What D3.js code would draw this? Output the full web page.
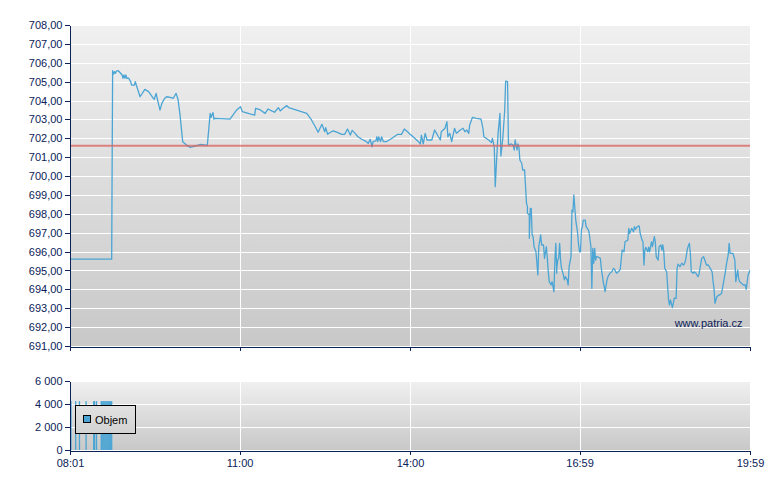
<!DOCTYPE html>
<html><head><meta charset="utf-8">
<script src="https://cdn.jsdelivr.net/npm/d3@7"></script>
<style>
body{margin:0;background:#fff}
svg{display:block}
text{font-family:"Liberation Sans",Arial,sans-serif;font-size:11px}
</style>
</head><body>
<svg id="c" width="780" height="490"></svg>
<script>
// ---- data ----
const sessionStart = "08:01";
const timeLabels = ["08:01", "11:00", "14:00", "16:59", "19:59"];
const priceTicks = [691,692,693,694,695,696,697,698,699,700,701,702,703,704,705,706,707,708];
const volumeTicks = [0, 2000, 4000, 6000];
const refPrice = 701.6;
const legendLabel = "Objem";
const watermark = "www.patria.cz";

// minutes after 08:01
const minutes = [0,44,45,46,47,48,49,51,53,55,56,57,58,59,60,62,64,65,68,69,70,74,79,83,88,89,91,92,95,97,100,102,106,109,112,114,116,119,123,127,132,138,145,148,149,151,152,153,169,172,176,180,182,190,195,196,201,206,209,213,216,220,222,225,229,231,250,255,259,262,266,269,270,272,275,278,283,287,290,293,296,298,301,304,308,313,315,317,319,320,323,324,325,326,328,329,331,334,340,346,350,353,357,359,361,364,368,370,371,373,375,377,382,385,387,389,391,392,394,396,398,399,401,403,406,408,410,412,415,417,419,421,422,425,429,434,436,437,442,445,446,448,449,451,452,454,455,457,459,460,462,463,466,468,469,470,472,473,474,475,477,478,480,482,483,483,485,485,486,487,488,489,490,492,494,495,497,498,500,501,503,504,505,506,508,509,510,511,512,513,514,514,515,516,517,518,519,521,522,523,525,526,527,529,530,531,532,534,535,536,537,538,539,540,541,542,544,545,547,548,550,551,552,553,554,555,556,557,560,561,563,565,567,568,570,572,574,575,577,579,581,583,585,586,589,590,591,593,595,596,597,599,601,602,604,605,606,607,608,610,611,612,614,615,617,618,619,621,622,624,625,626,627,628,630,632,633,634,635,636,637,638,640,641,642,644,646,648,649,650,652,654,655,656,658,659,661,663,664,667,669,670,672,674,676,678,679,680,681,683,685,686,688,692,693,695,696,697,699,700,702,703,705,706,707,709,711,713,714,716,718];
const prices = [695.60,695.60,705.58,705.40,705.53,705.44,705.56,705.58,705.47,705.35,705.18,705.35,705.18,705.35,705.18,705.18,705.00,704.82,704.82,705.00,704.82,704.20,704.59,704.47,704.12,704.07,704.38,704.12,703.50,703.85,704.12,704.20,704.17,704.12,704.38,704.07,703.32,701.82,701.64,701.52,701.59,701.68,701.63,703.32,703.11,703.36,703.01,703.06,703.01,703.23,703.50,703.67,703.41,703.29,703.23,703.59,703.50,703.32,703.55,703.45,703.38,703.62,703.45,703.59,703.73,703.62,703.32,702.97,702.61,702.32,702.74,702.35,702.56,702.21,702.32,702.39,702.30,702.21,702.21,702.49,702.17,702.42,702.26,702.08,701.95,701.82,701.73,701.95,701.55,701.82,701.86,702.08,701.82,702.08,701.82,702.08,701.82,701.82,702.00,702.21,702.21,702.49,702.32,702.21,702.14,702.00,701.82,701.70,702.17,701.70,702.26,701.91,701.91,702.44,702.26,702.08,701.91,702.35,702.44,702.53,702.88,702.08,702.26,701.82,702.53,702.26,702.35,702.44,702.53,702.35,702.44,702.26,702.70,703.11,703.06,703.01,702.53,702.08,701.91,701.77,702.00,701.55,699.44,701.38,702.26,703.32,701.06,702.00,703.50,705.03,705.00,701.64,701.70,701.64,701.38,701.91,701.38,701.70,701.55,700.85,700.68,700.32,700.32,698.56,698.38,698.03,697.94,696.70,698.29,698.29,696.88,696.79,696.26,695.99,694.76,696.26,696.88,696.35,696.35,695.64,696.26,695.64,694.93,694.41,694.23,694.41,694.14,693.88,695.55,696.44,694.85,695.11,695.55,695.64,696.44,695.55,695.11,694.76,694.50,694.67,694.50,694.23,695.20,695.73,698.20,698.11,699.00,697.67,697.32,696.97,696.35,695.99,695.99,697.18,697.32,697.67,697.67,697.32,697.18,697.05,696.26,694.05,696.17,695.38,696.17,695.55,695.73,695.73,695.64,695.11,694.41,693.88,694.50,694.67,694.85,694.93,695.11,695.06,694.85,694.93,695.06,696.08,695.99,696.52,696.61,697.23,696.97,697.23,697.05,697.32,697.18,697.32,697.36,696.97,696.61,696.52,695.29,696.08,696.23,695.99,696.23,695.99,696.52,696.26,696.79,696.52,695.73,695.55,696.26,696.35,696.08,696.35,695.99,695.11,694.93,693.44,693.17,693.44,693.26,693.03,693.26,693.53,693.53,695.11,695.34,695.20,695.38,695.29,695.38,695.55,696.17,696.44,695.91,694.93,694.85,694.93,694.85,694.67,694.76,695.64,695.73,695.59,695.29,695.29,695.11,694.93,694.41,694.05,693.26,693.61,693.70,693.70,693.79,694.93,695.29,695.82,696.44,695.91,695.91,695.91,695.55,694.41,695.02,694.58,694.41,694.32,694.23,694.23,694.00,694.76,695.02];

const volMinutes = [1,6,10,17,25,26,28,33,34,35,36,37,38,39,40,41,42,43,44];
const volumes    = [4250,4250,4250,4250,4250,4250,4250,4250,4250,4250,4250,4250,4250,4250,4250,4250,4250,4250,4250];

// ---- drawing ----
const navy = "#0b2258";
const lineBlue = "#4ba5d4";
const svg = d3.select("#c");
const toMin = s => { const [h, m] = s.split(":").map(Number); return h * 60 + m; };
const t0 = toMin(sessionStart);
const tickMinutes = timeLabels.map(l => toMin(l) - t0);

const X0 = 70, X1 = 750;
const main = {top: 25, bottom: 346};
const vol = {top: 381, bottom: 450};

const x = d3.scaleLinear().domain([tickMinutes[0], tickMinutes[tickMinutes.length - 1]]).range([X0, X1]);
const y = d3.scaleLinear().domain([d3.min(priceTicks), d3.max(priceTicks)]).range([main.bottom, main.top]);
const yv = d3.scaleLinear().domain([d3.min(volumeTicks), d3.max(volumeTicks)]).range([vol.bottom, vol.top]);

const defs = svg.append("defs");
function grad(id, y1, y2) {
  const g = defs.append("linearGradient").attr("id", id)
    .attr("gradientUnits", "userSpaceOnUse").attr("x1", 0).attr("x2", 0).attr("y1", y1).attr("y2", y2);
  g.append("stop").attr("offset", 0).attr("stop-color", "#f0f0f0");
  g.append("stop").attr("offset", 1).attr("stop-color", "#c8c8c8");
}
grad("gMain", main.top, main.bottom);
grad("gVol", vol.top, vol.bottom);
defs.append("clipPath").attr("id", "clipMain").append("rect")
  .attr("x", X0).attr("y", main.top).attr("width", X1 - X0).attr("height", main.bottom - main.top);

function panel(p, fill, yScale, ticks) {
  svg.append("rect").attr("x", X0).attr("y", p.top).attr("width", X1 - X0).attr("height", p.bottom - p.top)
    .attr("fill", `url(#${fill})`);
  const g = svg.append("g").attr("shape-rendering", "crispEdges");
  g.selectAll("line.h").data(ticks.filter(t => yScale(t) < p.bottom - 1)).join("line")
    .attr("x1", X0).attr("x2", X1).attr("y1", d => Math.round(yScale(d)) + 0.5).attr("y2", d => Math.round(yScale(d)) + 0.5)
    .attr("stroke", "#fff").attr("stroke-width", 1);
  g.selectAll("line.v").data(tickMinutes.slice(1, -1)).join("line")
    .attr("x1", d => Math.round(x(d)) + 0.5).attr("x2", d => Math.round(x(d)) + 0.5)
    .attr("y1", p.top).attr("y2", p.bottom).attr("stroke", "#fff").attr("stroke-width", 1);
}
panel(main, "gMain", y, priceTicks);
panel(vol, "gVol", yv, volumeTicks);

// price line
const line = d3.line().x((d, i) => x(minutes[i])).y(d => y(d));
svg.append("path").datum(prices).attr("clip-path", "url(#clipMain)")
  .attr("d", line).attr("fill", "none").attr("stroke", lineBlue).attr("stroke-width", 1.3)
  .attr("stroke-linejoin", "round");

// reference line
svg.append("line").attr("x1", X0).attr("x2", X1).attr("y1", y(refPrice)).attr("y2", y(refPrice))
  .attr("stroke", "#d9605c").attr("stroke-opacity", 0.75).attr("stroke-width", 2);

// watermark
svg.append("text").attr("x", 742.5).attr("y", 327).attr("text-anchor", "end")
  .attr("fill", navy).text(watermark);

// volume bars
const bw = 1.3;
svg.append("g").selectAll("rect").data(volumes).join("rect")
  .attr("x", (d, i) => x(volMinutes[i]) - bw / 2).attr("width", bw)
  .attr("y", d => yv(d)).attr("height", d => vol.bottom - yv(d))
  .attr("fill", lineBlue);

// legend
const lg = svg.append("g").attr("shape-rendering", "crispEdges");
lg.append("rect").attr("x", 75.5).attr("y", 405.5).attr("width", 60).attr("height", 28)
  .attr("fill", "url(#gVol)").attr("stroke", "#000");
lg.append("rect").attr("x", 83.5).attr("y", 415.5).attr("width", 7).attr("height", 7)
  .attr("fill", lineBlue).attr("stroke", "#000");
svg.append("text").attr("x", 95).attr("y", 424).attr("fill", "#000").text(legendLabel);

// axes
const fmtPrice = v => d3.format(".2f")(v).replace(".", ",");
const fmtVol = v => d3.format(",")(v).replace(/,/g, " ");
function styleAxis(g) {
  g.selectAll("path.domain").attr("stroke", navy).attr("stroke-width", 1);
  g.selectAll(".tick line").attr("stroke", navy);
  g.selectAll("text").attr("fill", navy).attr("font-size", 11).attr("font-family", '"Liberation Sans",Arial,sans-serif');
  g.attr("shape-rendering", "crispEdges");
}
svg.append("g").attr("transform", `translate(${X0 - 0.5},0)`)
  .call(d3.axisLeft(y).tickValues(priceTicks).tickFormat(fmtPrice).tickSize(5).tickSizeOuter(0).tickPadding(2))
  .call(styleAxis);
svg.append("g").attr("transform", `translate(0,${main.bottom + 0.5})`)
  .call(d3.axisBottom(x).tickValues(tickMinutes).tickFormat("").tickSize(4).tickSizeOuter(0))
  .call(styleAxis);
svg.append("g").attr("transform", `translate(${X0 - 0.5},0)`)
  .call(d3.axisLeft(yv).tickValues(volumeTicks).tickFormat(fmtVol).tickSize(5).tickSizeOuter(0).tickPadding(2))
  .call(styleAxis);
svg.append("g").attr("transform", `translate(0,${vol.bottom + 0.5})`)
  .call(d3.axisBottom(x).tickValues(tickMinutes).tickFormat((d, i) => timeLabels[i]).tickSize(4).tickSizeOuter(0).tickPadding(5))
  .call(styleAxis);
</script>
</body></html>
